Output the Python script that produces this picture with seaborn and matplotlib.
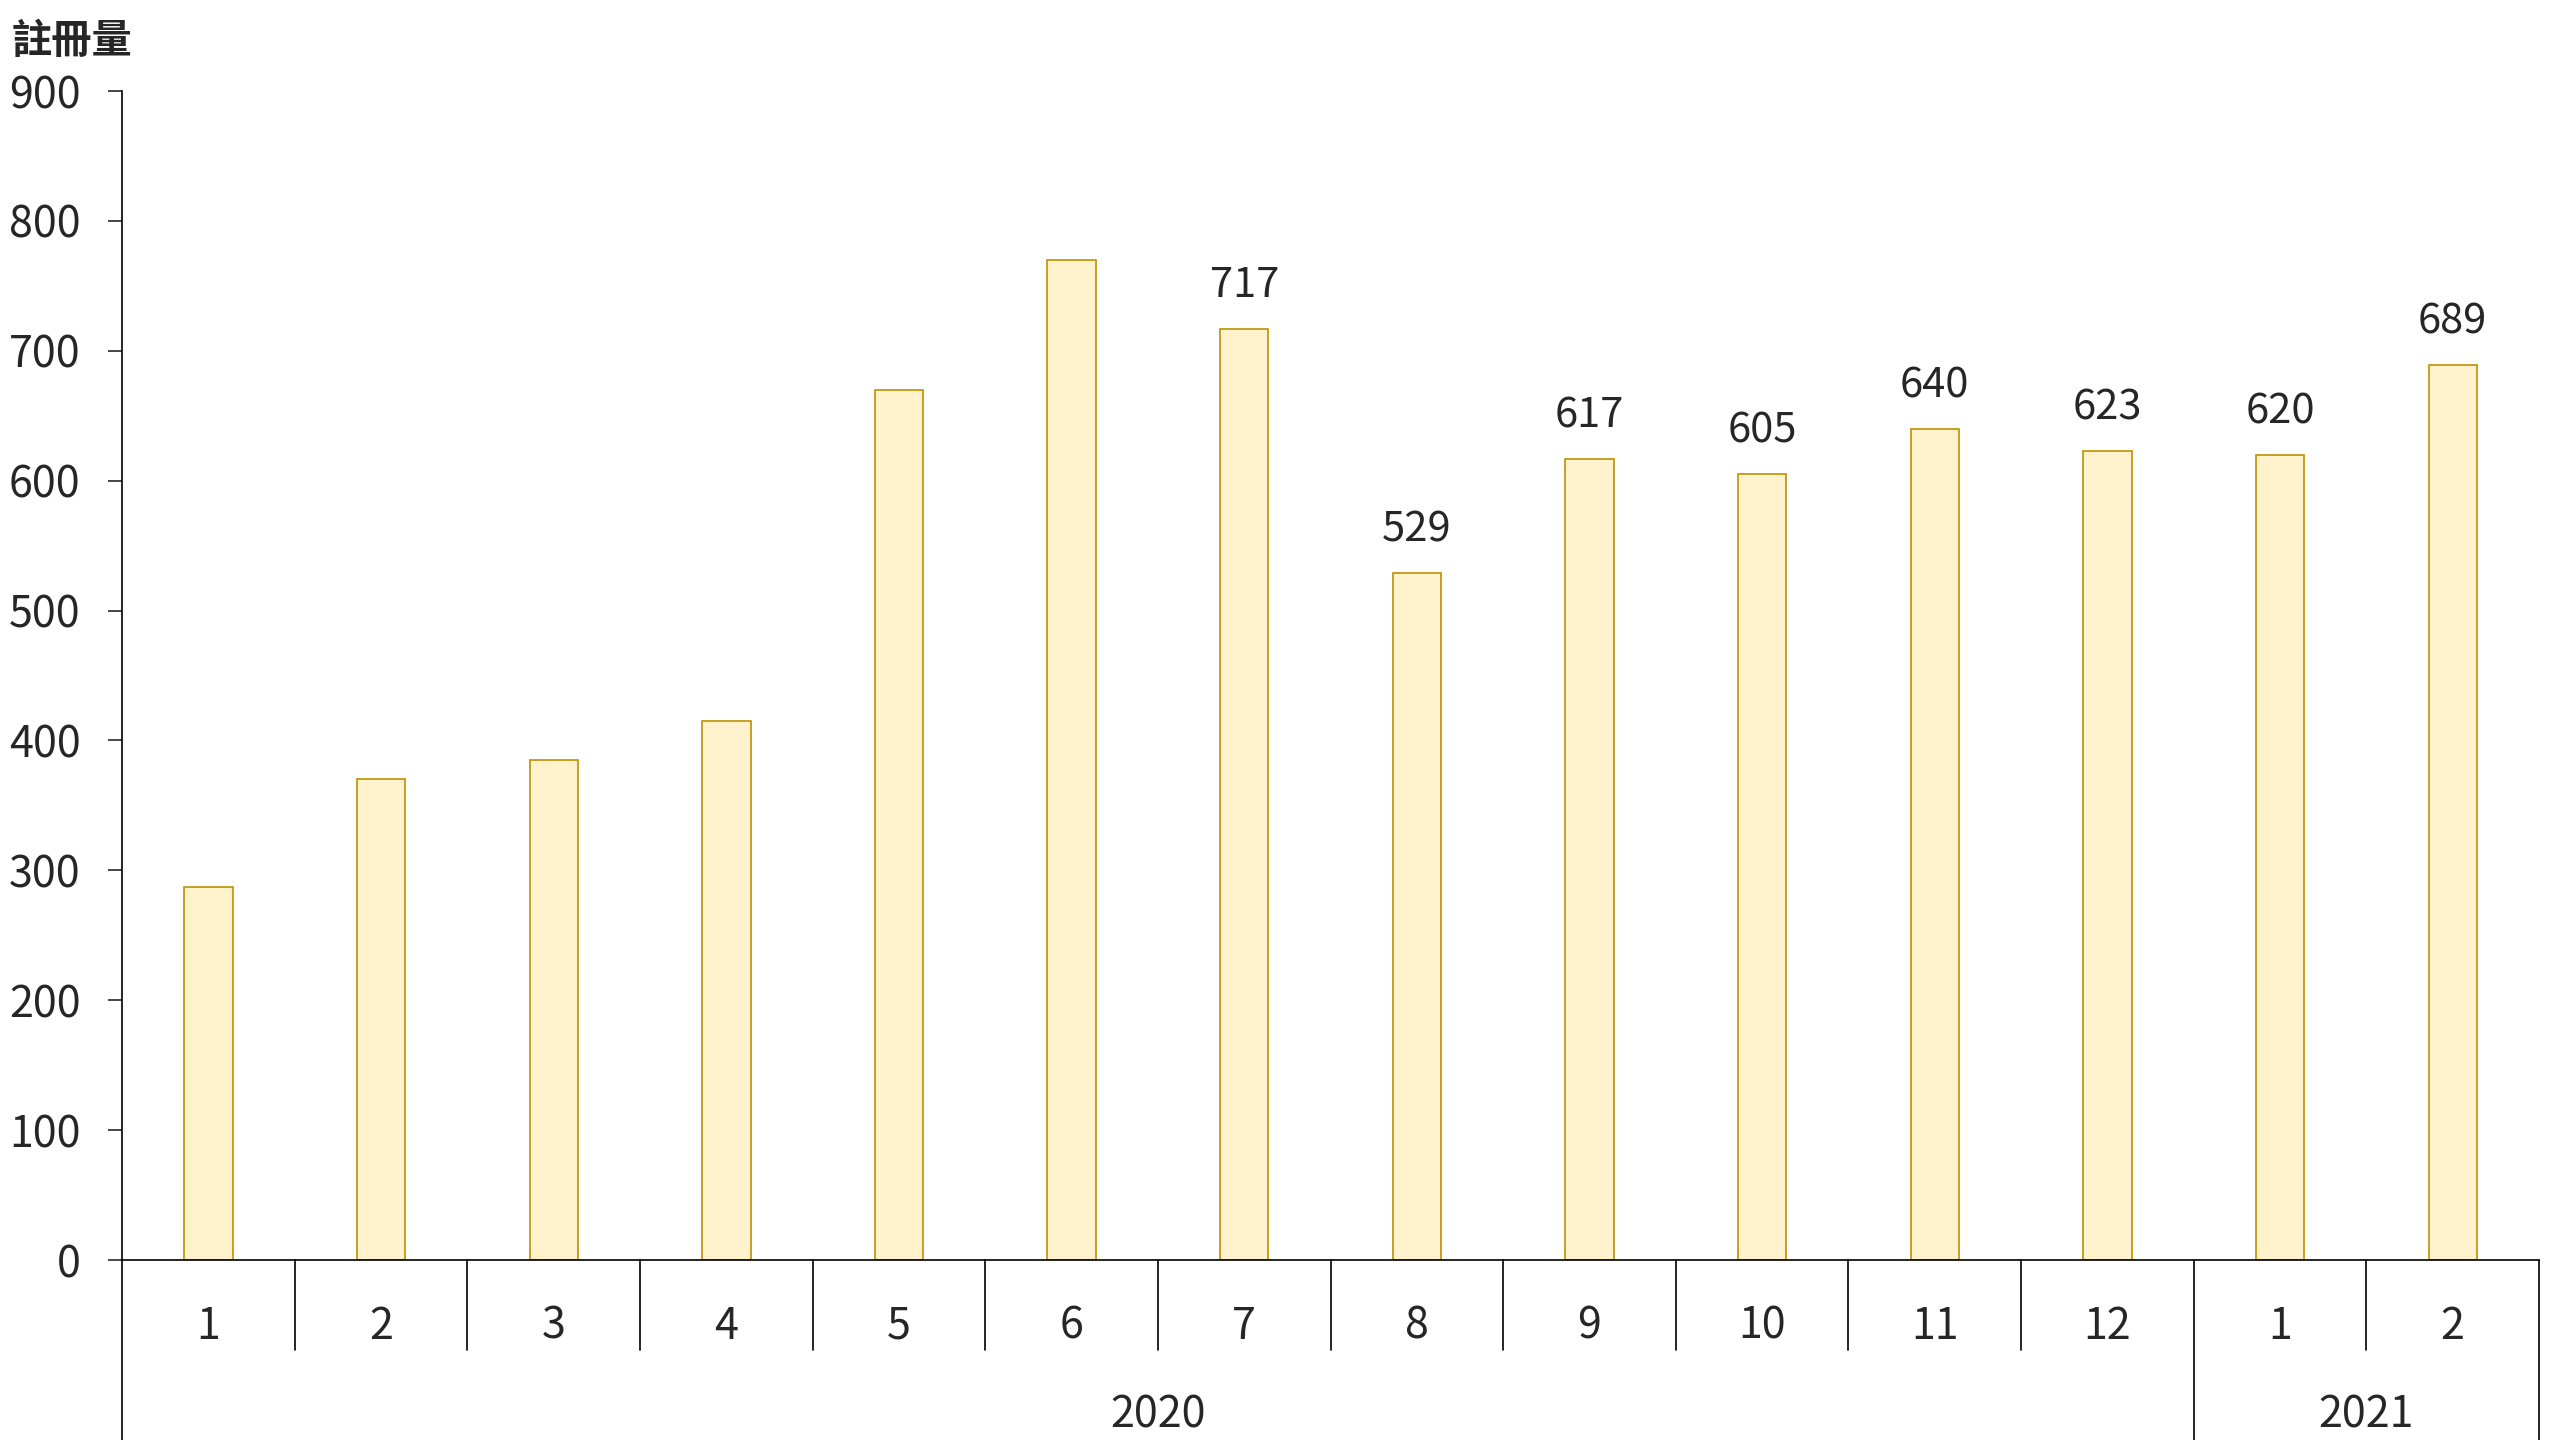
import matplotlib
matplotlib.use('Agg')
import matplotlib.pyplot as plt
import matplotlib.transforms as mtransforms
import pandas as pd
import seaborn as sns

years = ['2020'] * 12 + ['2021'] * 2
months = ['1', '2', '3', '4', '5', '6', '7', '8', '9', '10', '11', '12', '1', '2']
counts = [287, 370, 385, 415, 670, 770, 717, 529, 617, 605, 640, 623, 620, 689]
shown_labels = ['', '', '', '', '', '', '717', '529', '617', '605', '640', '623', '620', '689']

df = pd.DataFrame({'year': years, 'month': months, 'count': counts})
df['key'] = df['year'] + '-' + df['month']

sns.set_style('white')
plt.rcParams['font.family'] = ['Noto Sans CJK TC', 'DejaVu Sans']

fig = plt.figure(figsize=(25.6, 14.4), dpi=100)
ax = fig.add_axes([0.0477, 0.125, 0.9441, 0.8118])

sns.barplot(data=df, x='key', y='count', order=list(df['key']),
            color='#FFF2CC', edgecolor='#BF9000', linewidth=1.2,
            width=0.28, saturation=1, ax=ax)

ax.bar_label(ax.containers[0], labels=shown_labels, padding=16, fontsize=30)

ax.set_xlim(-0.5, len(df) - 0.5)
ax.set_ylim(0, 900)
ax.set_yticks(range(0, 1000, 100))
ax.set_xticks([])
ax.set_xlabel('')
ax.set_ylabel('')
ax.tick_params(axis='y', length=10, width=1.2, pad=20, labelsize=31, left=True)
for side in ['top', 'right']:
    ax.spines[side].set_visible(False)
for side in ['left', 'bottom']:
    ax.spines[side].set_linewidth(1.2)
    ax.spines[side].set_color('black')
ax.spines['left'].set_bounds(0, 900)

# two-level category axis below the bars
trans = mtransforms.blended_transform_factory(ax.transData, ax.transAxes)
n = len(df)
for i, m in enumerate(months):
    ax.text(i, -0.057, m, transform=trans, ha='center', va='center', fontsize=31)
for i in range(1, n):
    bottom = -0.16 if years[i] != years[i - 1] else -0.077
    ax.plot([i - 0.5, i - 0.5], [0, bottom], transform=trans, color='black',
            lw=1.2, clip_on=False)
for edge in [-0.5, n - 0.5]:
    ax.plot([edge, edge], [0, -0.16], transform=trans, color='black',
            lw=1.2, clip_on=False)

start = 0
for i in range(1, n + 1):
    if i == n or years[i] != years[start]:
        ax.text((start + i - 1) / 2, -0.133, years[start], transform=trans,
                ha='center', va='center', fontsize=31)
        start = i

fig.text(0.0047, 0.971, '註冊量', fontsize=29, fontweight='bold',
         ha='left', va='center')

fig.savefig('out.png', dpi=100)
plt.close(fig)
